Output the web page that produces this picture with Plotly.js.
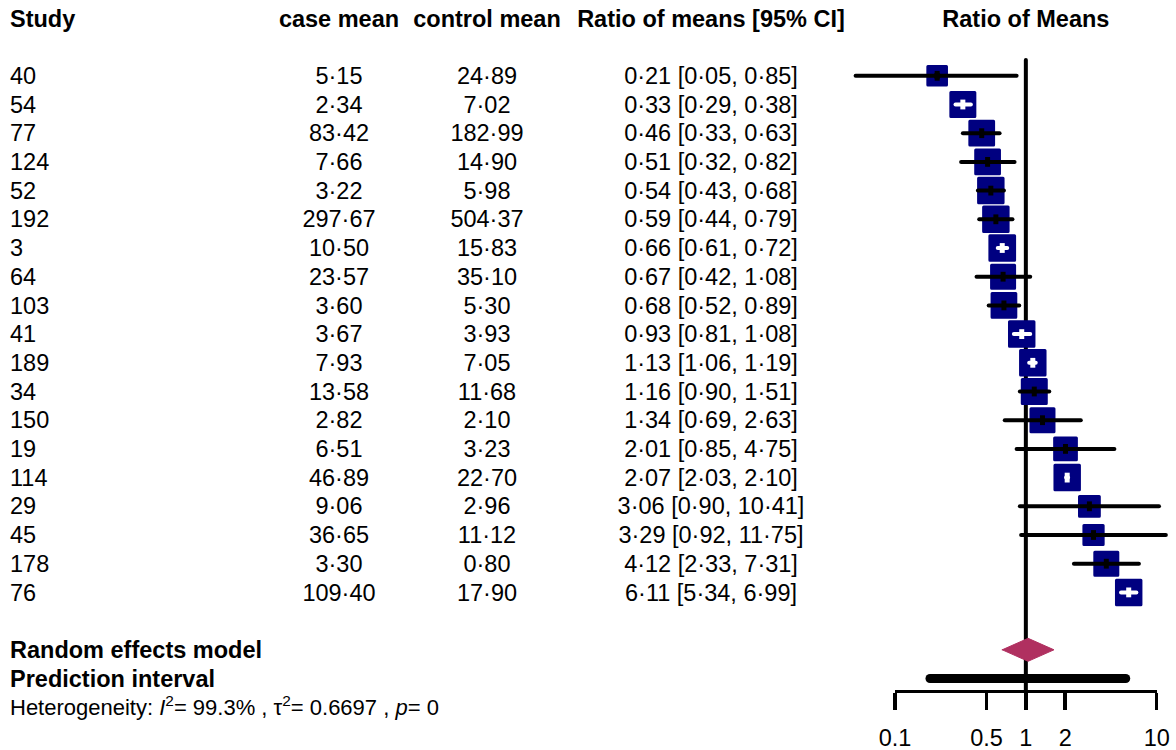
<!DOCTYPE html>
<html>
<head>
<meta charset="utf-8">
<script src="https://cdn.plot.ly/plotly-3.0.1.min.js"></script>
<style>
html,body{margin:0;padding:0;background:#fff;}
#chart{width:1176px;height:750px;}
.js-line{stroke-linecap:round;}
.scatterlayer .point{stroke-linejoin:round;}
</style>
</head>
<body>
<div id="chart"></div>
<script>
// ---------------- data ----------------
const studies = ['40','54','77','124','52','192','3','64','103','41','189','34','150','19','114','29','45','178','76'];
const caseMean = [5.15,2.34,83.42,7.66,3.22,297.67,10.50,23.57,3.60,3.67,7.93,13.58,2.82,6.51,46.89,9.06,36.65,3.30,109.40];
const controlMean = [24.89,7.02,182.99,14.90,5.98,504.37,15.83,35.10,5.30,3.93,7.05,11.68,2.10,3.23,22.70,2.96,11.12,0.80,17.90];
const ratio = [0.21,0.33,0.46,0.51,0.54,0.59,0.66,0.67,0.68,0.93,1.13,1.16,1.34,2.01,2.07,3.06,3.29,4.12,6.11];
const ciLower = [0.05,0.29,0.33,0.32,0.43,0.44,0.61,0.42,0.52,0.81,1.06,0.90,0.69,0.85,2.03,0.90,0.92,2.33,5.34];
const ciUpper = [0.85,0.38,0.63,0.82,0.68,0.79,0.72,1.08,0.89,1.08,1.19,1.51,2.63,4.75,2.10,10.41,11.75,7.31,6.99];
const weights = [3.6,5.6,5.5,5.5,5.8,5.8,5.9,5.2,5.5,5.8,5.8,5.6,5.2,4.7,5.8,4.0,3.8,5.2,5.8];
const reEstimate = 1.04, reLower = 0.66, reUpper = 1.64;
const piLower = 0.185, piUpper = 5.8;
const nullValue = 1;
const hetI2 = '99.3%', hetTau2 = '0.6697', hetP = '0';
const headers = ['Study','case mean','control mean','Ratio of means [95% CI]'];
const plotTitle = 'Ratio of Means';
const reLabel = 'Random effects model';
const piLabel = 'Prediction interval';
const tickVals = [0.1,0.5,1,2,10];
const tickText = ['0.1','0.5','1','2','10'];

// ---------------- layout constants ----------------
const W = 1176, H = 750;
const ROW0 = 75.8, ROWH = 28.7;          // pixel of first row, row height
const X1 = 1025.85, DEC = 130.85;         // pixel of ratio 1, pixels per decade
const FONT = 'Liberation Sans, Arial, Helvetica, sans-serif';
const FS = 23.5, FS_SMALL = 22;
const TDY = 0.08;
const COL_STUDY = 10, COL_CASE = 339, COL_CTRL = 487, COL_RATIO = 711;
const NAVY = '#000080', DIAMOND = '#B03060';
const BOX_EDGE = 3;

const n = studies.length;
const rows = studies.map((_, i) => i);
const rowRE = n + 1, rowPI = n + 2, rowHet = n + 3, rowHead = -2;
const yRange = [(H - ROW0) / ROWH, -ROW0 / ROWH];
const xRange = [-X1 / DEC, (W - X1) / DEC];

const fmt = v => v.toFixed(2).replace('.', '\u00B7');
const maxW = Math.max(...weights);
const sides = weights.map(w => 27.7 * Math.sqrt(w / maxW));
const inside = ratio.map((r, i) => {
  const half = sides[i] / 2 / DEC - 1 / DEC;
  return Math.log10(r / ciLower[i]) < half && Math.log10(ciUpper[i] / r) < half;
});

function segs(idx) {
  const x = [], y = [];
  idx.forEach(i => { x.push(ciLower[i], ciUpper[i], null); y.push(i, i, null); });
  return {x, y};
}
const blackIdx = rows.filter(i => !inside[i]);
const whiteIdx = rows.filter(i => inside[i]);
const bSeg = segs(blackIdx), wSeg = segs(whiteIdx);

const traces = [];
// null-effect line
traces.push({x:[nullValue, nullValue], y:[-0.55, 21.42], mode:'lines',
  line:{color:'#000', width:4}, hoverinfo:'skip', showlegend:false});
// squares
traces.push({x: ratio, y: rows, mode:'markers',
  marker:{symbol:'square', size: sides.map(s => s - BOX_EDGE), color: NAVY, opacity:1,
          line:{width: BOX_EDGE, color: NAVY}},
  hoverinfo:'skip', showlegend:false});
// CI lines
traces.push({x: bSeg.x, y: bSeg.y, mode:'lines', line:{color:'#000', width:4}, hoverinfo:'skip', showlegend:false});
traces.push({x: wSeg.x, y: wSeg.y, mode:'lines', line:{color:'#fff', width:4}, hoverinfo:'skip', showlegend:false});
// point marks
traces.push({x: blackIdx.map(i => ratio[i]), y: blackIdx, mode:'markers',
  marker:{symbol:'circle', size:[7], color:'#000', opacity:1, line:{width:0}}, hoverinfo:'skip', showlegend:false});
traces.push({x: blackIdx.map(i => ratio[i]), y: blackIdx, mode:'markers',
  marker:{symbol:'line-ns', size:7, opacity:1, line:{color:'#000', width:5}}, hoverinfo:'skip', showlegend:false});
traces.push({x: whiteIdx.map(i => ratio[i]), y: whiteIdx, mode:'markers',
  marker:{symbol:'line-ns', size:7, opacity:1, line:{color:'#fff', width:5}}, hoverinfo:'skip', showlegend:false});
// diamond
const dh = 0.4;
traces.push({x:[reLower, reEstimate, reUpper, reEstimate, reLower], y:[rowRE, rowRE - dh, rowRE, rowRE + dh, rowRE],
  mode:'lines', fill:'toself', fillcolor: DIAMOND, line:{color: DIAMOND, width:1}, hoverinfo:'skip', showlegend:false});
// prediction interval
traces.push({x:[piLower, piUpper], y:[rowPI, rowPI], mode:'lines', line:{color:'#000', width:9}, hoverinfo:'skip', showlegend:false});

// text columns
const txt = (x, y, text, pos, size, xaxis) => ({x, y, text, mode:'text', textposition: pos, xaxis: xaxis || 'x2',
  textfont:{family: FONT, size: size || FS, color:'#000'}, hoverinfo:'skip', showlegend:false, cliponaxis:false});
const ty = rows.map(i => i + TDY);
traces.push(txt(rows.map(() => COL_STUDY), ty, studies, 'middle right'));
traces.push(txt(rows.map(() => COL_CASE), ty, caseMean.map(fmt), 'middle center'));
traces.push(txt(rows.map(() => COL_CTRL), ty, controlMean.map(fmt), 'middle center'));
traces.push(txt(rows.map(() => COL_RATIO), ty, rows.map(i => `${fmt(ratio[i])} [${fmt(ciLower[i])}, ${fmt(ciUpper[i])}]`), 'middle center'));
// headers
traces.push(txt([COL_STUDY], [rowHead + TDY], ['<b>' + headers[0] + '</b>'], 'middle right'));
traces.push(txt([COL_CASE, COL_CTRL, COL_RATIO], [rowHead + TDY, rowHead + TDY, rowHead + TDY],
  headers.slice(1).map(h => '<b>' + h + '</b>'), 'middle center'));
traces.push(txt([nullValue], [rowHead + TDY], ['<b>' + plotTitle + '</b>'], 'middle center', FS, 'x'));
// summary labels
traces.push(txt([COL_STUDY, COL_STUDY], [rowRE + TDY, rowPI + TDY], ['<b>' + reLabel + '</b>', '<b>' + piLabel + '</b>'], 'middle right'));
traces.push(txt([COL_STUDY], [rowHet + TDY],
  [`Heterogeneity: <i>I</i><sup>2</sup>= ${hetI2} , \u03C4<sup>2</sup>= ${hetTau2} , <i>p</i>= ${hetP}`], 'middle right', FS_SMALL));

const layout = {
  width: W, height: H,
  margin:{l:0, r:0, t:0, b:0, pad:0},
  paper_bgcolor:'#fff', plot_bgcolor:'rgba(0,0,0,0)',
  showlegend:false,
  font:{family: FONT, size: FS, color:'#000'},
  xaxis:{type:'log', range: xRange, domain:[0,1], visible:false, fixedrange:true},
  xaxis2:{range:[0, W], overlaying:'x', visible:false, fixedrange:true},
  xaxis3:{type:'log', range:[-1, 1], domain:[895/W, 1156.7/W], anchor:'free', position: 1 - 690.7/H, overlaying:false,
    showline:true, linewidth:3.5, linecolor:'#000', ticks:'outside', ticklen:17, tickwidth:3.5, tickcolor:'#000',
    tickmode:'array', tickvals: tickVals, ticktext: tickText, tickfont:{family: FONT, size: FS, color:'#000'},
    ticklabelstandoff: 8, showgrid:false, zeroline:false, fixedrange:true},
  yaxis:{range: yRange, domain:[0,1], visible:false, fixedrange:true}
};
// anchor trace for the visible ratio axis
traces.push({x: tickVals, y: tickVals.map(() => null), xaxis:'x3', yaxis:'y', mode:'markers', hoverinfo:'skip', showlegend:false});

Plotly.newPlot('chart', traces, layout, {staticPlot:true, displayModeBar:false});
</script>
</body>
</html>
